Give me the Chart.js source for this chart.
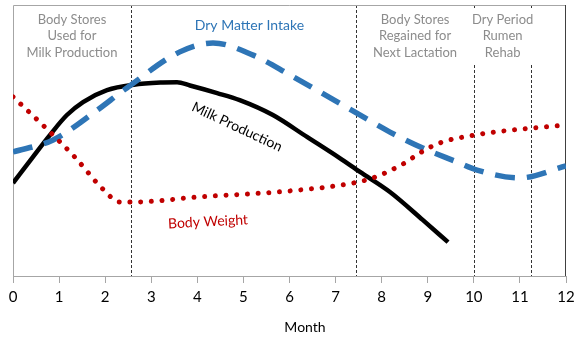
<!DOCTYPE html>
<html>
<head>
<meta charset="utf-8">
<script src="https://cdn.jsdelivr.net/npm/chart.js@4.4.0/dist/chart.umd.min.js"></script>
<style>
  html, body { margin: 0; padding: 0; background: #fff; }
  #wrap { width: 582px; height: 338px; }
</style>
</head>
<body>
<div id="wrap"><canvas id="cowChart" width="582" height="338"></canvas></div>
<script>
// Months on the x axis
const monthTicks = [0, 1, 2, 3, 4, 5, 6, 7, 8, 9, 10, 11, 12];

// Milk production (relative units, 0-100)
const milkMonths = [0, 0.43, 0.8, 1.17, 1.52, 2.04, 2.62, 3.25, 3.56, 3.84, 4.43, 4.92, 5.64, 6.38, 7.09, 7.53, 8.18, 8.89, 9.44];
const milkValues = [34.3, 43.9, 52.0, 59.4, 64.2, 68.6, 70.6, 71.4, 71.5, 70.3, 67.5, 64.9, 59.4, 51.3, 43.5, 38.4, 31, 20.7, 12.5];

// Dry matter intake
const dmiMonths = [0, 0.87, 1.74, 2.47, 3.62, 4.34, 5.21, 6.01, 6.66, 7.46, 8.18, 8.89, 9.63, 10.07, 11.0, 12];
const dmiValues = [45.8, 50.2, 60.1, 69.4, 82.7, 86.0, 81.5, 74.2, 67.9, 60.1, 53.1, 47.2, 42.1, 39.1, 36.2, 40.6];

// Body weight
const bwMonths = [0, 0.69, 1.34, 1.95, 2.32, 2.6, 4.06, 6.01, 7.38, 7.81, 8.46, 8.83, 9.26, 9.91, 10.63, 12];
const bwValues = [66.1, 55.0, 43.9, 32.1, 27.3, 27.3, 29.2, 31.4, 34.3, 36.2, 41.3, 45.4, 49.1, 51.7, 53.5, 55.7];

// Phase boundaries (month) and the phase names between them
const phaseBounds = [0, 2.56, 7.45, 10, 11.25, 12];
const phaseNames = [
    ['Body Stores', 'Used for', 'Milk Production'],
    null,
    ['Body Stores', 'Regained for', 'Next Lactation'],
    ['Dry Period', 'Rumen', 'Rehab']
];

const FONT = 'Lato, "Open Sans", sans-serif';
const toPoints = (xs, ys) => xs.map((m, i) => ({ x: m, y: ys[i] }));

// Frame, phase dividers and the text labels drawn on the chart
const notesPlugin = {
    id: 'notes',
    beforeDatasetsDraw(chart) {
        const { ctx, chartArea: a, scales: { x } } = chart;
        ctx.save();
        // dashed phase dividers
        ctx.strokeStyle = '#333';
        ctx.lineWidth = 1;
        ctx.setLineDash([3, 2]);
        phaseBounds.slice(1, -1).forEach(m => {
            const px = Math.round(x.getPixelForValue(m)) + 0.5;
            ctx.beginPath();
            ctx.moveTo(px, a.top);
            ctx.lineTo(px, a.bottom);
            ctx.stroke();
        });
        ctx.setLineDash([]);

        // frame: top and left in grey, right in dark
        ctx.strokeStyle = '#a6a6a6';
        ctx.beginPath();
        ctx.moveTo(a.left + 0.5, a.bottom);
        ctx.lineTo(a.left + 0.5, a.top + 0.5);
        ctx.lineTo(a.right, a.top + 0.5);
        ctx.stroke();
        ctx.strokeStyle = '#404040';
        ctx.beginPath();
        ctx.moveTo(a.right - 0.5, a.top);
        ctx.lineTo(a.right - 0.5, a.bottom);
        ctx.stroke();

        // phase names
        ctx.font = '13px ' + FONT;
        ctx.textAlign = 'center';
        ctx.textBaseline = 'middle';
        phaseNames.forEach((lines, i) => {
            if (!lines) return;
            const cx = x.getPixelForValue((phaseBounds[i] + phaseBounds[i + 1]) / 2);
            if (i === 3) {
                ctx.fillStyle = '#fff';
                ctx.fillRect(cx - 30, a.top + 4, 60, 56);
            }
            ctx.fillStyle = '#8c8c8c';
            lines.forEach((t, j) => ctx.fillText(t, cx, a.top + 14.5 + j * 16.5));
        });
        ctx.restore();
    },
    afterDatasetsDraw(chart) {
        const { ctx, scales: { x, y } } = chart;
        const label = (text, m, v, deg, color) => {
            ctx.save();
            ctx.translate(x.getPixelForValue(m), y.getPixelForValue(v));
            ctx.rotate(deg * Math.PI / 180);
            ctx.font = '14px ' + FONT;
            ctx.fillStyle = color;
            ctx.textAlign = 'center';
            ctx.textBaseline = 'middle';
            ctx.fillText(text, 0, 0);
            ctx.restore();
        };
        label('Dry Matter Intake', 5.13, 92.6, 0, '#2e75b6');
        label('Milk Production', 4.86, 55, 25, '#000');
        label('Body Weight', 4.23, 20, -3, '#c00000');

        // axis title
        ctx.save();
        ctx.font = '14px ' + FONT;
        ctx.fillStyle = '#000';
        ctx.textAlign = 'center';
        ctx.textBaseline = 'middle';
        ctx.fillText('Month', 305, 327);
        ctx.restore();
    }
};

const cowChart = new Chart(document.getElementById('cowChart'), {
    type: 'line',
    data: {
        datasets: [
            {
                label: 'Body Weight',
                data: toPoints(bwMonths, bwValues),
                borderColor: '#c00000',
                borderWidth: 5,
                borderDash: [0.01, 10.7],
                borderCapStyle: 'round',
                cubicInterpolationMode: 'monotone',
                pointRadius: 0
            },
            {
                label: 'Dry Matter Intake',
                data: toPoints(dmiMonths, dmiValues),
                borderColor: '#2e75b6',
                borderWidth: 5.5,
                borderDash: [20, 12],
                cubicInterpolationMode: 'monotone',
                pointRadius: 0
            },
            {
                label: 'Milk Production',
                data: toPoints(milkMonths, milkValues),
                borderColor: '#000',
                borderWidth: 4.5,
                cubicInterpolationMode: 'monotone',
                pointRadius: 0
            }
        ]
    },
    options: {
        responsive: false,
        animation: false,
        layout: { padding: { left: 13, right: 16, top: 5, bottom: 0 } },
        plugins: {
            legend: { display: false },
            tooltip: { enabled: false }
        },
        scales: {
            x: {
                type: 'linear',
                min: 0,
                max: 12,
                afterBuildTicks: s => { s.ticks = monthTicks.map(v => ({ value: v })); },
                afterFit: s => { s.height = 62; },
                ticks: { color: '#000', font: { family: FONT, size: 15 }, padding: 5 },
                grid: { drawOnChartArea: false, tickLength: 7, color: '#a6a6a6' },
                border: { color: '#a6a6a6' }
            },
            y: {
                display: false,
                min: 0,
                max: 100
            }
        }
    },
    plugins: [notesPlugin]
});
</script>
</body>
</html>
